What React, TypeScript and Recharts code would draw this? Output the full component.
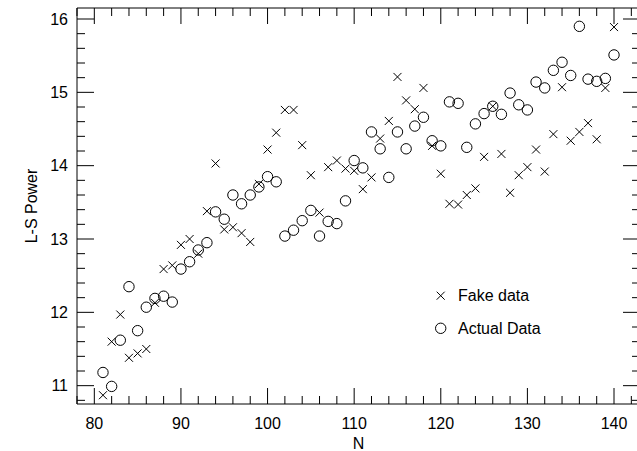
import { ScatterChart, Scatter, XAxis, YAxis } from "recharts";

const nValues = [
  81, 82, 83, 84, 85, 86, 87, 88, 89, 90, 91, 92, 93, 94, 95, 96, 97, 98, 99, 100,
  101, 102, 103, 104, 105, 106, 107, 108, 109, 110, 111, 112, 113, 114, 115, 116, 117, 118, 119, 120,
  121, 122, 123, 124, 125, 126, 127, 128, 129, 130, 131, 132, 133, 134, 135, 136, 137, 138, 139, 140,
];

const fakePower = [
  10.87, 11.6, 11.97, 11.38, 11.44, 11.5, 12.13, 12.59, 12.64, 12.92, 13.0, 12.8, 13.38, 14.03, 13.13, 13.16, 13.08, 12.96, 13.75, 14.22,
  14.45, 14.76, 14.76, 14.28, 13.87, 13.36, 13.98, 14.07, 13.96, 13.93, 13.68, 13.84, 14.37, 14.61, 15.21, 14.89, 14.77, 15.06, 14.27, 13.89,
  13.48, 13.47, 13.6, 13.69, 14.12, 14.81, 14.16, 13.63, 13.87, 13.98, 14.22, 13.92, 14.43, 15.07, 14.34, 14.46, 14.58, 14.36, 15.06, 15.89,
];

const actualPower = [
  11.18, 10.99, 11.62, 12.35, 11.75, 12.07, 12.19, 12.22, 12.14, 12.59, 12.69, 12.85, 12.95, 13.37, 13.27, 13.6, 13.48, 13.6, 13.71, 13.85,
  13.78, 13.04, 13.12, 13.25, 13.39, 13.04, 13.24, 13.21, 13.52, 14.07, 13.97, 14.46, 14.23, 13.84, 14.46, 14.23, 14.54, 14.66, 14.34, 14.27,
  14.87, 14.85, 14.25, 14.57, 14.71, 14.81, 14.7, 14.99, 14.83, 14.76, 15.14, 15.06, 15.3, 15.41, 15.23, 15.9, 15.18, 15.15, 15.19, 15.51,
];

const xTicks = [78, 80, 82, 84, 86, 88, 90, 92, 94, 96, 98, 100, 102, 104, 106, 108, 110, 112, 114, 116, 118, 120, 122, 124, 126, 128, 130, 132, 134, 136, 138, 140, 142];
const yTicks = [
  10.8, 11, 11.2, 11.4, 11.6, 11.8, 12, 12.2, 12.4, 12.6, 12.8, 13, 13.2, 13.4, 13.6, 13.8, 14,
  14.2, 14.4, 14.6, 14.8, 15, 15.2, 15.4, 15.6, 15.8, 16,
];

const fakeData = nValues.map((n, i) => ({ n, v: fakePower[i] }));
const actualData = nValues.map((n, i) => ({ n, v: actualPower[i] }));

const FONT = "'Liberation Sans', Arial, Helvetica, sans-serif";
const FS = 16;

const isMajorX = (v: number) => v % 10 === 0;
const isMajorY = (v: number) => Math.abs(v - Math.round(v)) < 1e-6;

const BottomTick = (props: any) => {
  const { x, y, payload } = props;
  const major = isMajorX(payload.value);
  return (
    <g>
      <line x1={x} y1={y} x2={x} y2={y - (major ? 16 : 8)} stroke="#000" strokeWidth={1} />
      {major && (
        <text x={x} y={y + 25} textAnchor="middle" fontSize={FS} fontFamily={FONT} fill="#000">
          {payload.value}
        </text>
      )}
    </g>
  );
};

const TopTick = (props: any) => {
  const { x, y, payload } = props;
  const major = isMajorX(payload.value);
  return (
    <g>
      <line x1={x} y1={y} x2={x} y2={y + (major ? 16 : 8)} stroke="#000" strokeWidth={1} />
    </g>
  );
};

const LeftTick = (props: any) => {
  const { x, y, payload } = props;
  const major = isMajorY(payload.value);
  return (
    <g>
      <line x1={x} y1={y} x2={x + (major ? 17 : 8)} y2={y} stroke="#000" strokeWidth={1} />
      {major && (
        <text x={x - 9} y={y + 5.5} textAnchor="end" fontSize={FS} fontFamily={FONT} fill="#000">
          {Math.round(payload.value)}
        </text>
      )}
    </g>
  );
};

const RightTick = (props: any) => {
  const { x, y, payload } = props;
  const major = isMajorY(payload.value);
  return (
    <g>
      <line x1={x} y1={y} x2={x - (major ? 17 : 8)} y2={y} stroke="#000" strokeWidth={1} />
    </g>
  );
};

const Cross = ({ cx, cy }: any) => (
  <path d={`M${cx - 4},${cy - 4}L${cx + 4},${cy + 4}M${cx - 4},${cy + 4}L${cx + 4},${cy - 4}`} stroke="#000" strokeWidth={1} fill="none" />
);

const Ring = ({ cx, cy }: any) => <circle cx={cx} cy={cy} r={5.2} stroke="#000" strokeWidth={1} fill="none" />;

const Nothing = () => <g />;

export default function App() {
  return (
    <div style={{ position: "absolute", left: 0, top: 0, width: 637, height: 451, overflow: "hidden", background: "#fff" }}>
      <ScatterChart width={641} height={451} margin={{ top: 7, right: 0, bottom: 0, left: 0 }}>
        <XAxis
          xAxisId="bottom"
          dataKey="n"
          type="number"
          domain={[78, 143]}
          ticks={xTicks}
          interval={0}
          height={47}
          tickSize={0}
          tickMargin={0}
          tickLine={false}
          axisLine={{ stroke: "#000" }}
          tick={<BottomTick />}
          label={{
            content: () => (
              <text x={358.5} y={449} textAnchor="middle" fontSize={FS} fontFamily={FONT} fill="#000">N</text>
            ),
          }}
        />
        <XAxis
          xAxisId="top"
          dataKey="n"
          orientation="top"
          type="number"
          domain={[78, 143]}
          ticks={xTicks}
          interval={0}
          height={1}
          tickSize={0}
          tickMargin={0}
          tickLine={false}
          axisLine={{ stroke: "#000" }}
          tick={<TopTick />}
        />
        <YAxis
          yAxisId="left"
          dataKey="v"
          type="number"
          domain={[10.75, 16.15]}
          ticks={yTicks}
          interval={0}
          width={77}
          tickSize={0}
          tickMargin={0}
          tickLine={false}
          axisLine={{ stroke: "#000" }}
          tick={<LeftTick />}
          label={{
            content: () => (
              <text x={37} y={206} transform="rotate(-90 37 206)" textAnchor="middle" fontSize={FS} fontFamily={FONT} fill="#000">
                L-S Power
              </text>
            ),
          }}
        />
        <YAxis
          yAxisId="right"
          dataKey="v"
          orientation="right"
          type="number"
          domain={[10.75, 16.15]}
          ticks={yTicks}
          interval={0}
          width={1}
          tickSize={0}
          tickMargin={0}
          tickLine={false}
          axisLine={{ stroke: "#000" }}
          tick={<RightTick />}
        />
        <Scatter data={actualData} xAxisId="top" yAxisId="right" shape={<Nothing />} legendType="none" isAnimationActive={false} />
        <Scatter name="Fake data" data={fakeData} xAxisId="bottom" yAxisId="left" shape={<Cross />} isAnimationActive={false} />
        <Scatter name="Actual Data" data={actualData} xAxisId="bottom" yAxisId="left" shape={<Ring />} isAnimationActive={false} />
      </ScatterChart>
      <svg width={150} height={60} style={{ position: "absolute", left: 431, top: 280 }}>
        <path d="M5.7,11.7L13.7,19.7M5.7,19.7L13.7,11.7" stroke="#000" fill="none" />
        <text x={27} y={21} fontSize={FS} fontFamily={FONT} fill="#000">Fake data</text>
        <circle cx={9.7} cy={48.3} r={5.2} stroke="#000" fill="none" />
        <text x={27} y={54} fontSize={FS} fontFamily={FONT} fill="#000">Actual Data</text>
      </svg>
    </div>
  );
}
